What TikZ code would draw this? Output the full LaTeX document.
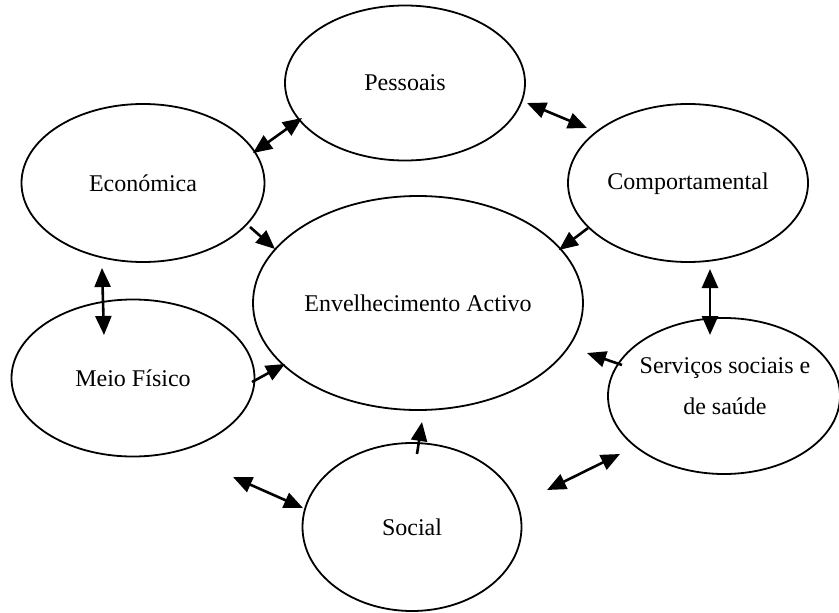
\documentclass[tikz,border=0pt]{standalone}
\usepackage{fontspec}
\setmainfont{Liberation Serif}
\usetikzlibrary{shapes.geometric,arrows.meta}
\begin{document}
\begin{tikzpicture}[x=1pt,y=-1pt,
  oval/.style={draw,ellipse,line width=1.8pt,inner sep=0pt,align=center,
    font=\fontsize{24}{41}\selectfont},
  lbl/.style={inner sep=0pt,align=center,font=\fontsize{24}{41}\selectfont},
  tip/.tip={Triangle[length=19pt,width=16pt]},
  link/.style={line width=2.6pt,-tip},
  dlink/.style={line width=2.6pt,tip-tip}]
\useasboundingbox (0,0) rectangle (839,613);
\node[oval,minimum width=240pt,minimum height=155pt] (pes) at (405,83) {Pessoais};
\node[oval,minimum width=243pt,minimum height=158pt] (eco) at (143,183) {Económica};
\node[oval,minimum width=240pt,minimum height=158pt] (com) at (688,183) {};
\node[lbl] (comt) at (688,184) {Comportamental};
\node[oval,minimum width=330pt,minimum height=214pt] (ea) at (418,303) {Envelhecimento Activo};
\node[oval,minimum width=243pt,minimum height=157pt] (mei) at (133,378) {Meio Físico};
\node[oval,minimum width=232pt,minimum height=156pt] (ser) at (724,396) {};
\node[lbl] (sert) at (725,386) {Serviços sociais e\\de saúde};
\node[oval,minimum width=219pt,minimum height=168pt] (soc) at (412,527) {Social};
% arrow end coordinates
\coordinate (a1) at (253,153); \coordinate (b1) at (302,118);
\coordinate (a2) at (527,103); \coordinate (b2) at (587,128);
\coordinate (a3) at (250,227); \coordinate (b3) at (275,249);
\coordinate (a4) at (588,228); \coordinate (b4) at (559,250);
\coordinate (a5) at (710,269); \coordinate (b5) at (710,335);
\coordinate (a6) at (622,365); \coordinate (b6) at (587,353);
\coordinate (a7) at (417,454); \coordinate (b7) at (422,422);
\coordinate (a8) at (252,382); \coordinate (b8) at (285,364);
\coordinate (a9) at (102,268); \coordinate (b9) at (104,335);
\coordinate (a10) at (233,477); \coordinate (b10) at (303,508);
\coordinate (a11) at (547,490); \coordinate (b11) at (620,454);
\draw[dlink] (a1) -- (b1);
\draw[dlink] (a2) -- (b2);
\draw[link] (a3) -- (b3);
\draw[link] (a4) -- (b4);
\draw[dlink] (a5) -- (b5);
\draw[link] (a6) -- (b6);
\draw[link] (a7) -- (b7);
\draw[link] (a8) -- (b8);
\draw[dlink] (a9) -- (b9);
\draw[dlink] (a10) -- (b10);
\draw[dlink] (a11) -- (b11);
\end{tikzpicture}
\end{document}
